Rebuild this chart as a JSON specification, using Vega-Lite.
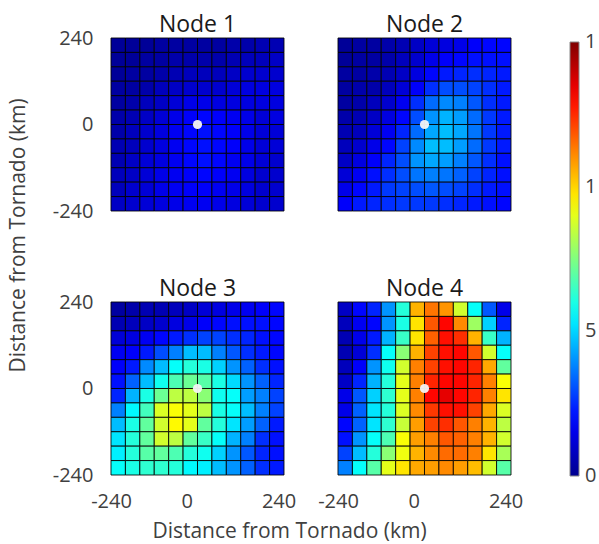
{
"$schema": "https://vega.github.io/schema/vega-lite/v6.json",
"background": "white",
"padding": {"left": 7, "top": 14, "right": 0, "bottom": 8},
"config": {
  "view": {"stroke": null},
  "font": "Open Sans",
  "title": {"font": "Open Sans", "fontSize": 23, "fontWeight": "normal", "color": "#1a1a1a", "anchor": "middle", "offset": 0},
  "axis": {"labelFont": "Open Sans", "labelFontSize": 20, "labelColor": "#404040", "titleFont": "Open Sans", "titleFontSize": 21, "titleFontWeight": "normal", "titleColor": "#404040", "domain": false, "ticks": false, "tickSize": 0, "grid": false, "labelFlush": false}
},
"datasets": {
"dots": [{"node":1,"x":0,"y":0},{"node":2,"x":0,"y":0},{"node":3,"x":0,"y":0},{"node":4,"x":0,"y":0}],
"cells": [
{"node":1,"x":-220,"y":220,"v":0.01},{"node":1,"x":-180,"y":220,"v":0.01},{"node":1,"x":-140,"y":220,"v":0.01},{"node":1,"x":-100,"y":220,"v":0.02},{"node":1,"x":-60,"y":220,"v":0.02},{"node":1,"x":-20,"y":220,"v":0.02},{"node":1,"x":20,"y":220,"v":0.02},{"node":1,"x":60,"y":220,"v":0.02},{"node":1,"x":100,"y":220,"v":0.03},{"node":1,"x":140,"y":220,"v":0.03},{"node":1,"x":180,"y":220,"v":0.04},{"node":1,"x":220,"y":220,"v":0.04},
{"node":1,"x":-220,"y":180,"v":0.01},{"node":1,"x":-180,"y":180,"v":0.01},{"node":1,"x":-140,"y":180,"v":0.02},{"node":1,"x":-100,"y":180,"v":0.02},{"node":1,"x":-60,"y":180,"v":0.03},{"node":1,"x":-20,"y":180,"v":0.03},{"node":1,"x":20,"y":180,"v":0.03},{"node":1,"x":60,"y":180,"v":0.03},{"node":1,"x":100,"y":180,"v":0.04},{"node":1,"x":140,"y":180,"v":0.05},{"node":1,"x":180,"y":180,"v":0.05},{"node":1,"x":220,"y":180,"v":0.06},
{"node":1,"x":-220,"y":140,"v":0.01},{"node":1,"x":-180,"y":140,"v":0.02},{"node":1,"x":-140,"y":140,"v":0.02},{"node":1,"x":-100,"y":140,"v":0.03},{"node":1,"x":-60,"y":140,"v":0.04},{"node":1,"x":-20,"y":140,"v":0.05},{"node":1,"x":20,"y":140,"v":0.05},{"node":1,"x":60,"y":140,"v":0.05},{"node":1,"x":100,"y":140,"v":0.06},{"node":1,"x":140,"y":140,"v":0.07},{"node":1,"x":180,"y":140,"v":0.07},{"node":1,"x":220,"y":140,"v":0.07},
{"node":1,"x":-220,"y":100,"v":0.02},{"node":1,"x":-180,"y":100,"v":0.02},{"node":1,"x":-140,"y":100,"v":0.03},{"node":1,"x":-100,"y":100,"v":0.05},{"node":1,"x":-60,"y":100,"v":0.06},{"node":1,"x":-20,"y":100,"v":0.07},{"node":1,"x":20,"y":100,"v":0.07},{"node":1,"x":60,"y":100,"v":0.07},{"node":1,"x":100,"y":100,"v":0.08},{"node":1,"x":140,"y":100,"v":0.09},{"node":1,"x":180,"y":100,"v":0.09},{"node":1,"x":220,"y":100,"v":0.09},
{"node":1,"x":-220,"y":60,"v":0.02},{"node":1,"x":-180,"y":60,"v":0.03},{"node":1,"x":-140,"y":60,"v":0.05},{"node":1,"x":-100,"y":60,"v":0.06},{"node":1,"x":-60,"y":60,"v":0.08},{"node":1,"x":-20,"y":60,"v":0.10},{"node":1,"x":20,"y":60,"v":0.10},{"node":1,"x":60,"y":60,"v":0.09},{"node":1,"x":100,"y":60,"v":0.09},{"node":1,"x":140,"y":60,"v":0.09},{"node":1,"x":180,"y":60,"v":0.09},{"node":1,"x":220,"y":60,"v":0.09},
{"node":1,"x":-220,"y":20,"v":0.03},{"node":1,"x":-180,"y":20,"v":0.04},{"node":1,"x":-140,"y":20,"v":0.06},{"node":1,"x":-100,"y":20,"v":0.08},{"node":1,"x":-60,"y":20,"v":0.10},{"node":1,"x":-20,"y":20,"v":0.12},{"node":1,"x":20,"y":20,"v":0.13},{"node":1,"x":60,"y":20,"v":0.12},{"node":1,"x":100,"y":20,"v":0.11},{"node":1,"x":140,"y":20,"v":0.10},{"node":1,"x":180,"y":20,"v":0.08},{"node":1,"x":220,"y":20,"v":0.09},
{"node":1,"x":-220,"y":-20,"v":0.03},{"node":1,"x":-180,"y":-20,"v":0.05},{"node":1,"x":-140,"y":-20,"v":0.07},{"node":1,"x":-100,"y":-20,"v":0.09},{"node":1,"x":-60,"y":-20,"v":0.11},{"node":1,"x":-20,"y":-20,"v":0.13},{"node":1,"x":20,"y":-20,"v":0.14},{"node":1,"x":60,"y":-20,"v":0.13},{"node":1,"x":100,"y":-20,"v":0.12},{"node":1,"x":140,"y":-20,"v":0.10},{"node":1,"x":180,"y":-20,"v":0.08},{"node":1,"x":220,"y":-20,"v":0.08},
{"node":1,"x":-220,"y":-60,"v":0.04},{"node":1,"x":-180,"y":-60,"v":0.05},{"node":1,"x":-140,"y":-60,"v":0.07},{"node":1,"x":-100,"y":-60,"v":0.09},{"node":1,"x":-60,"y":-60,"v":0.11},{"node":1,"x":-20,"y":-60,"v":0.13},{"node":1,"x":20,"y":-60,"v":0.14},{"node":1,"x":60,"y":-60,"v":0.13},{"node":1,"x":100,"y":-60,"v":0.12},{"node":1,"x":140,"y":-60,"v":0.10},{"node":1,"x":180,"y":-60,"v":0.08},{"node":1,"x":220,"y":-60,"v":0.08},
{"node":1,"x":-220,"y":-100,"v":0.04},{"node":1,"x":-180,"y":-100,"v":0.06},{"node":1,"x":-140,"y":-100,"v":0.08},{"node":1,"x":-100,"y":-100,"v":0.09},{"node":1,"x":-60,"y":-100,"v":0.11},{"node":1,"x":-20,"y":-100,"v":0.13},{"node":1,"x":20,"y":-100,"v":0.14},{"node":1,"x":60,"y":-100,"v":0.13},{"node":1,"x":100,"y":-100,"v":0.11},{"node":1,"x":140,"y":-100,"v":0.10},{"node":1,"x":180,"y":-100,"v":0.08},{"node":1,"x":220,"y":-100,"v":0.07},
{"node":1,"x":-220,"y":-140,"v":0.05},{"node":1,"x":-180,"y":-140,"v":0.06},{"node":1,"x":-140,"y":-140,"v":0.08},{"node":1,"x":-100,"y":-140,"v":0.10},{"node":1,"x":-60,"y":-140,"v":0.11},{"node":1,"x":-20,"y":-140,"v":0.12},{"node":1,"x":20,"y":-140,"v":0.13},{"node":1,"x":60,"y":-140,"v":0.12},{"node":1,"x":100,"y":-140,"v":0.11},{"node":1,"x":140,"y":-140,"v":0.09},{"node":1,"x":180,"y":-140,"v":0.07},{"node":1,"x":220,"y":-140,"v":0.07},
{"node":1,"x":-220,"y":-180,"v":0.05},{"node":1,"x":-180,"y":-180,"v":0.07},{"node":1,"x":-140,"y":-180,"v":0.08},{"node":1,"x":-100,"y":-180,"v":0.10},{"node":1,"x":-60,"y":-180,"v":0.11},{"node":1,"x":-20,"y":-180,"v":0.12},{"node":1,"x":20,"y":-180,"v":0.12},{"node":1,"x":60,"y":-180,"v":0.11},{"node":1,"x":100,"y":-180,"v":0.10},{"node":1,"x":140,"y":-180,"v":0.09},{"node":1,"x":180,"y":-180,"v":0.07},{"node":1,"x":220,"y":-180,"v":0.07},
{"node":1,"x":-220,"y":-220,"v":0.06},{"node":1,"x":-180,"y":-220,"v":0.07},{"node":1,"x":-140,"y":-220,"v":0.08},{"node":1,"x":-100,"y":-220,"v":0.09},{"node":1,"x":-60,"y":-220,"v":0.10},{"node":1,"x":-20,"y":-220,"v":0.11},{"node":1,"x":20,"y":-220,"v":0.11},{"node":1,"x":60,"y":-220,"v":0.10},{"node":1,"x":100,"y":-220,"v":0.09},{"node":1,"x":140,"y":-220,"v":0.08},{"node":1,"x":180,"y":-220,"v":0.07},{"node":1,"x":220,"y":-220,"v":0.07},

{"node":2,"x":-220,"y":220,"v":0.01},{"node":2,"x":-180,"y":220,"v":0.02},{"node":2,"x":-140,"y":220,"v":0.02},{"node":2,"x":-100,"y":220,"v":0.03},{"node":2,"x":-60,"y":220,"v":0.04},{"node":2,"x":-20,"y":220,"v":0.06},{"node":2,"x":20,"y":220,"v":0.08},{"node":2,"x":60,"y":220,"v":0.09},{"node":2,"x":100,"y":220,"v":0.10},{"node":2,"x":140,"y":220,"v":0.12},{"node":2,"x":180,"y":220,"v":0.13},{"node":2,"x":220,"y":220,"v":0.13},
{"node":2,"x":-220,"y":180,"v":0.01},{"node":2,"x":-180,"y":180,"v":0.02},{"node":2,"x":-140,"y":180,"v":0.02},{"node":2,"x":-100,"y":180,"v":0.03},{"node":2,"x":-60,"y":180,"v":0.05},{"node":2,"x":-20,"y":180,"v":0.07},{"node":2,"x":20,"y":180,"v":0.10},{"node":2,"x":60,"y":180,"v":0.12},{"node":2,"x":100,"y":180,"v":0.13},{"node":2,"x":140,"y":180,"v":0.14},{"node":2,"x":180,"y":180,"v":0.14},{"node":2,"x":220,"y":180,"v":0.14},
{"node":2,"x":-220,"y":140,"v":0.02},{"node":2,"x":-180,"y":140,"v":0.02},{"node":2,"x":-140,"y":140,"v":0.03},{"node":2,"x":-100,"y":140,"v":0.04},{"node":2,"x":-60,"y":140,"v":0.06},{"node":2,"x":-20,"y":140,"v":0.09},{"node":2,"x":20,"y":140,"v":0.13},{"node":2,"x":60,"y":140,"v":0.15},{"node":2,"x":100,"y":140,"v":0.16},{"node":2,"x":140,"y":140,"v":0.17},{"node":2,"x":180,"y":140,"v":0.16},{"node":2,"x":220,"y":140,"v":0.15},
{"node":2,"x":-220,"y":100,"v":0.02},{"node":2,"x":-180,"y":100,"v":0.03},{"node":2,"x":-140,"y":100,"v":0.03},{"node":2,"x":-100,"y":100,"v":0.05},{"node":2,"x":-60,"y":100,"v":0.08},{"node":2,"x":-20,"y":100,"v":0.12},{"node":2,"x":20,"y":100,"v":0.17},{"node":2,"x":60,"y":100,"v":0.20},{"node":2,"x":100,"y":100,"v":0.20},{"node":2,"x":140,"y":100,"v":0.19},{"node":2,"x":180,"y":100,"v":0.17},{"node":2,"x":220,"y":100,"v":0.15},
{"node":2,"x":-220,"y":60,"v":0.02},{"node":2,"x":-180,"y":60,"v":0.03},{"node":2,"x":-140,"y":60,"v":0.05},{"node":2,"x":-100,"y":60,"v":0.07},{"node":2,"x":-60,"y":60,"v":0.11},{"node":2,"x":-20,"y":60,"v":0.17},{"node":2,"x":20,"y":60,"v":0.23},{"node":2,"x":60,"y":60,"v":0.26},{"node":2,"x":100,"y":60,"v":0.25},{"node":2,"x":140,"y":60,"v":0.21},{"node":2,"x":180,"y":60,"v":0.17},{"node":2,"x":220,"y":60,"v":0.15},
{"node":2,"x":-220,"y":20,"v":0.03},{"node":2,"x":-180,"y":20,"v":0.04},{"node":2,"x":-140,"y":20,"v":0.06},{"node":2,"x":-100,"y":20,"v":0.09},{"node":2,"x":-60,"y":20,"v":0.13},{"node":2,"x":-20,"y":20,"v":0.20},{"node":2,"x":20,"y":20,"v":0.27},{"node":2,"x":60,"y":20,"v":0.30},{"node":2,"x":100,"y":20,"v":0.28},{"node":2,"x":140,"y":20,"v":0.23},{"node":2,"x":180,"y":20,"v":0.18},{"node":2,"x":220,"y":20,"v":0.15},
{"node":2,"x":-220,"y":-20,"v":0.04},{"node":2,"x":-180,"y":-20,"v":0.05},{"node":2,"x":-140,"y":-20,"v":0.08},{"node":2,"x":-100,"y":-20,"v":0.11},{"node":2,"x":-60,"y":-20,"v":0.16},{"node":2,"x":-20,"y":-20,"v":0.23},{"node":2,"x":20,"y":-20,"v":0.29},{"node":2,"x":60,"y":-20,"v":0.31},{"node":2,"x":100,"y":-20,"v":0.29},{"node":2,"x":140,"y":-20,"v":0.24},{"node":2,"x":180,"y":-20,"v":0.18},{"node":2,"x":220,"y":-20,"v":0.15},
{"node":2,"x":-220,"y":-60,"v":0.05},{"node":2,"x":-180,"y":-60,"v":0.07},{"node":2,"x":-140,"y":-60,"v":0.10},{"node":2,"x":-100,"y":-60,"v":0.13},{"node":2,"x":-60,"y":-60,"v":0.19},{"node":2,"x":-20,"y":-60,"v":0.26},{"node":2,"x":20,"y":-60,"v":0.31},{"node":2,"x":60,"y":-60,"v":0.31},{"node":2,"x":100,"y":-60,"v":0.28},{"node":2,"x":140,"y":-60,"v":0.23},{"node":2,"x":180,"y":-60,"v":0.18},{"node":2,"x":220,"y":-60,"v":0.15},
{"node":2,"x":-220,"y":-100,"v":0.06},{"node":2,"x":-180,"y":-100,"v":0.09},{"node":2,"x":-140,"y":-100,"v":0.12},{"node":2,"x":-100,"y":-100,"v":0.16},{"node":2,"x":-60,"y":-100,"v":0.20},{"node":2,"x":-20,"y":-100,"v":0.27},{"node":2,"x":20,"y":-100,"v":0.29},{"node":2,"x":60,"y":-100,"v":0.28},{"node":2,"x":100,"y":-100,"v":0.25},{"node":2,"x":140,"y":-100,"v":0.21},{"node":2,"x":180,"y":-100,"v":0.17},{"node":2,"x":220,"y":-100,"v":0.14},
{"node":2,"x":-220,"y":-140,"v":0.08},{"node":2,"x":-180,"y":-140,"v":0.11},{"node":2,"x":-140,"y":-140,"v":0.14},{"node":2,"x":-100,"y":-140,"v":0.17},{"node":2,"x":-60,"y":-140,"v":0.20},{"node":2,"x":-20,"y":-140,"v":0.24},{"node":2,"x":20,"y":-140,"v":0.25},{"node":2,"x":60,"y":-140,"v":0.24},{"node":2,"x":100,"y":-140,"v":0.22},{"node":2,"x":140,"y":-140,"v":0.19},{"node":2,"x":180,"y":-140,"v":0.16},{"node":2,"x":220,"y":-140,"v":0.14},
{"node":2,"x":-220,"y":-180,"v":0.10},{"node":2,"x":-180,"y":-180,"v":0.13},{"node":2,"x":-140,"y":-180,"v":0.15},{"node":2,"x":-100,"y":-180,"v":0.18},{"node":2,"x":-60,"y":-180,"v":0.19},{"node":2,"x":-20,"y":-180,"v":0.20},{"node":2,"x":20,"y":-180,"v":0.21},{"node":2,"x":60,"y":-180,"v":0.20},{"node":2,"x":100,"y":-180,"v":0.19},{"node":2,"x":140,"y":-180,"v":0.17},{"node":2,"x":180,"y":-180,"v":0.15},{"node":2,"x":220,"y":-180,"v":0.14},
{"node":2,"x":-220,"y":-220,"v":0.12},{"node":2,"x":-180,"y":-220,"v":0.15},{"node":2,"x":-140,"y":-220,"v":0.16},{"node":2,"x":-100,"y":-220,"v":0.17},{"node":2,"x":-60,"y":-220,"v":0.18},{"node":2,"x":-20,"y":-220,"v":0.18},{"node":2,"x":20,"y":-220,"v":0.18},{"node":2,"x":60,"y":-220,"v":0.17},{"node":2,"x":100,"y":-220,"v":0.16},{"node":2,"x":140,"y":-220,"v":0.15},{"node":2,"x":180,"y":-220,"v":0.14},{"node":2,"x":220,"y":-220,"v":0.13},

{"node":3,"x":-220,"y":220,"v":0.02},{"node":3,"x":-180,"y":220,"v":0.03},{"node":3,"x":-140,"y":220,"v":0.04},{"node":3,"x":-100,"y":220,"v":0.04},{"node":3,"x":-60,"y":220,"v":0.05},{"node":3,"x":-20,"y":220,"v":0.06},{"node":3,"x":20,"y":220,"v":0.08},{"node":3,"x":60,"y":220,"v":0.09},{"node":3,"x":100,"y":220,"v":0.10},{"node":3,"x":140,"y":220,"v":0.11},{"node":3,"x":180,"y":220,"v":0.12},{"node":3,"x":220,"y":220,"v":0.13},
{"node":3,"x":-220,"y":180,"v":0.04},{"node":3,"x":-180,"y":180,"v":0.05},{"node":3,"x":-140,"y":180,"v":0.06},{"node":3,"x":-100,"y":180,"v":0.07},{"node":3,"x":-60,"y":180,"v":0.09},{"node":3,"x":-20,"y":180,"v":0.10},{"node":3,"x":20,"y":180,"v":0.12},{"node":3,"x":60,"y":180,"v":0.13},{"node":3,"x":100,"y":180,"v":0.14},{"node":3,"x":140,"y":180,"v":0.14},{"node":3,"x":180,"y":180,"v":0.14},{"node":3,"x":220,"y":180,"v":0.13},
{"node":3,"x":-220,"y":140,"v":0.08},{"node":3,"x":-180,"y":140,"v":0.09},{"node":3,"x":-140,"y":140,"v":0.11},{"node":3,"x":-100,"y":140,"v":0.13},{"node":3,"x":-60,"y":140,"v":0.15},{"node":3,"x":-20,"y":140,"v":0.17},{"node":3,"x":20,"y":140,"v":0.19},{"node":3,"x":60,"y":140,"v":0.19},{"node":3,"x":100,"y":140,"v":0.17},{"node":3,"x":140,"y":140,"v":0.16},{"node":3,"x":180,"y":140,"v":0.14},{"node":3,"x":220,"y":140,"v":0.13},
{"node":3,"x":-220,"y":100,"v":0.11},{"node":3,"x":-180,"y":100,"v":0.12},{"node":3,"x":-140,"y":100,"v":0.15},{"node":3,"x":-100,"y":100,"v":0.20},{"node":3,"x":-60,"y":100,"v":0.25},{"node":3,"x":-20,"y":100,"v":0.31},{"node":3,"x":20,"y":100,"v":0.31},{"node":3,"x":60,"y":100,"v":0.25},{"node":3,"x":100,"y":100,"v":0.21},{"node":3,"x":140,"y":100,"v":0.17},{"node":3,"x":180,"y":100,"v":0.15},{"node":3,"x":220,"y":100,"v":0.13},
{"node":3,"x":-220,"y":60,"v":0.12},{"node":3,"x":-180,"y":60,"v":0.15},{"node":3,"x":-140,"y":60,"v":0.26},{"node":3,"x":-100,"y":60,"v":0.31},{"node":3,"x":-60,"y":60,"v":0.38},{"node":3,"x":-20,"y":60,"v":0.41},{"node":3,"x":20,"y":60,"v":0.40},{"node":3,"x":60,"y":60,"v":0.33},{"node":3,"x":100,"y":60,"v":0.27},{"node":3,"x":140,"y":60,"v":0.22},{"node":3,"x":180,"y":60,"v":0.17},{"node":3,"x":220,"y":60,"v":0.14},
{"node":3,"x":-220,"y":20,"v":0.14},{"node":3,"x":-180,"y":20,"v":0.22},{"node":3,"x":-140,"y":20,"v":0.31},{"node":3,"x":-100,"y":20,"v":0.39},{"node":3,"x":-60,"y":20,"v":0.45},{"node":3,"x":-20,"y":20,"v":0.48},{"node":3,"x":20,"y":20,"v":0.46},{"node":3,"x":60,"y":20,"v":0.40},{"node":3,"x":100,"y":20,"v":0.34},{"node":3,"x":140,"y":20,"v":0.27},{"node":3,"x":180,"y":20,"v":0.22},{"node":3,"x":220,"y":20,"v":0.16},
{"node":3,"x":-220,"y":-20,"v":0.16},{"node":3,"x":-180,"y":-20,"v":0.30},{"node":3,"x":-140,"y":-20,"v":0.40},{"node":3,"x":-100,"y":-20,"v":0.48},{"node":3,"x":-60,"y":-20,"v":0.56},{"node":3,"x":-20,"y":-20,"v":0.56},{"node":3,"x":20,"y":-20,"v":0.51},{"node":3,"x":60,"y":-20,"v":0.39},{"node":3,"x":100,"y":-20,"v":0.38},{"node":3,"x":140,"y":-20,"v":0.28},{"node":3,"x":180,"y":-20,"v":0.25},{"node":3,"x":220,"y":-20,"v":0.19},
{"node":3,"x":-220,"y":-60,"v":0.25},{"node":3,"x":-180,"y":-60,"v":0.37},{"node":3,"x":-140,"y":-60,"v":0.44},{"node":3,"x":-100,"y":-60,"v":0.59},{"node":3,"x":-60,"y":-60,"v":0.62},{"node":3,"x":-20,"y":-60,"v":0.60},{"node":3,"x":20,"y":-60,"v":0.56},{"node":3,"x":60,"y":-60,"v":0.40},{"node":3,"x":100,"y":-60,"v":0.38},{"node":3,"x":140,"y":-60,"v":0.31},{"node":3,"x":180,"y":-60,"v":0.25},{"node":3,"x":220,"y":-60,"v":0.19},
{"node":3,"x":-220,"y":-100,"v":0.31},{"node":3,"x":-180,"y":-100,"v":0.40},{"node":3,"x":-140,"y":-100,"v":0.47},{"node":3,"x":-100,"y":-100,"v":0.58},{"node":3,"x":-60,"y":-100,"v":0.63},{"node":3,"x":-20,"y":-100,"v":0.60},{"node":3,"x":20,"y":-100,"v":0.47},{"node":3,"x":60,"y":-100,"v":0.41},{"node":3,"x":100,"y":-100,"v":0.35},{"node":3,"x":140,"y":-100,"v":0.28},{"node":3,"x":180,"y":-100,"v":0.22},{"node":3,"x":220,"y":-100,"v":0.15},
{"node":3,"x":-220,"y":-140,"v":0.35},{"node":3,"x":-180,"y":-140,"v":0.41},{"node":3,"x":-140,"y":-140,"v":0.47},{"node":3,"x":-100,"y":-140,"v":0.58},{"node":3,"x":-60,"y":-140,"v":0.56},{"node":3,"x":-20,"y":-140,"v":0.47},{"node":3,"x":20,"y":-140,"v":0.43},{"node":3,"x":60,"y":-140,"v":0.38},{"node":3,"x":100,"y":-140,"v":0.30},{"node":3,"x":140,"y":-140,"v":0.25},{"node":3,"x":180,"y":-140,"v":0.17},{"node":3,"x":220,"y":-140,"v":0.14},
{"node":3,"x":-220,"y":-180,"v":0.36},{"node":3,"x":-180,"y":-180,"v":0.41},{"node":3,"x":-140,"y":-180,"v":0.46},{"node":3,"x":-100,"y":-180,"v":0.47},{"node":3,"x":-60,"y":-180,"v":0.45},{"node":3,"x":-20,"y":-180,"v":0.41},{"node":3,"x":20,"y":-180,"v":0.39},{"node":3,"x":60,"y":-180,"v":0.33},{"node":3,"x":100,"y":-180,"v":0.27},{"node":3,"x":140,"y":-180,"v":0.21},{"node":3,"x":180,"y":-180,"v":0.16},{"node":3,"x":220,"y":-180,"v":0.14},
{"node":3,"x":-220,"y":-220,"v":0.38},{"node":3,"x":-180,"y":-220,"v":0.40},{"node":3,"x":-140,"y":-220,"v":0.42},{"node":3,"x":-100,"y":-220,"v":0.42},{"node":3,"x":-60,"y":-220,"v":0.41},{"node":3,"x":-20,"y":-220,"v":0.37},{"node":3,"x":20,"y":-220,"v":0.36},{"node":3,"x":60,"y":-220,"v":0.31},{"node":3,"x":100,"y":-220,"v":0.27},{"node":3,"x":140,"y":-220,"v":0.22},{"node":3,"x":180,"y":-220,"v":0.17},{"node":3,"x":220,"y":-220,"v":0.15},

{"node":4,"x":-220,"y":220,"v":0.06},{"node":4,"x":-180,"y":220,"v":0.13},{"node":4,"x":-140,"y":220,"v":0.16},{"node":4,"x":-100,"y":220,"v":0.27},{"node":4,"x":-60,"y":220,"v":0.41},{"node":4,"x":-20,"y":220,"v":0.70},{"node":4,"x":20,"y":220,"v":0.76},{"node":4,"x":60,"y":220,"v":0.73},{"node":4,"x":100,"y":220,"v":0.58},{"node":4,"x":140,"y":220,"v":0.38},{"node":4,"x":180,"y":220,"v":0.21},{"node":4,"x":220,"y":220,"v":0.10},
{"node":4,"x":-220,"y":180,"v":0.05},{"node":4,"x":-180,"y":180,"v":0.11},{"node":4,"x":-140,"y":180,"v":0.13},{"node":4,"x":-100,"y":180,"v":0.27},{"node":4,"x":-60,"y":180,"v":0.40},{"node":4,"x":-20,"y":180,"v":0.65},{"node":4,"x":20,"y":180,"v":0.79},{"node":4,"x":60,"y":180,"v":0.87},{"node":4,"x":100,"y":180,"v":0.74},{"node":4,"x":140,"y":180,"v":0.53},{"node":4,"x":180,"y":180,"v":0.33},{"node":4,"x":220,"y":180,"v":0.16},
{"node":4,"x":-220,"y":140,"v":0.04},{"node":4,"x":-180,"y":140,"v":0.10},{"node":4,"x":-140,"y":140,"v":0.15},{"node":4,"x":-100,"y":140,"v":0.30},{"node":4,"x":-60,"y":140,"v":0.43},{"node":4,"x":-20,"y":140,"v":0.65},{"node":4,"x":20,"y":140,"v":0.78},{"node":4,"x":60,"y":140,"v":0.86},{"node":4,"x":100,"y":140,"v":0.83},{"node":4,"x":140,"y":140,"v":0.70},{"node":4,"x":180,"y":140,"v":0.43},{"node":4,"x":220,"y":140,"v":0.30},
{"node":4,"x":-220,"y":100,"v":0.04},{"node":4,"x":-180,"y":100,"v":0.08},{"node":4,"x":-140,"y":100,"v":0.17},{"node":4,"x":-100,"y":100,"v":0.38},{"node":4,"x":-60,"y":100,"v":0.51},{"node":4,"x":-20,"y":100,"v":0.70},{"node":4,"x":20,"y":100,"v":0.81},{"node":4,"x":60,"y":100,"v":0.86},{"node":4,"x":100,"y":100,"v":0.87},{"node":4,"x":140,"y":100,"v":0.79},{"node":4,"x":180,"y":100,"v":0.58},{"node":4,"x":220,"y":100,"v":0.38},
{"node":4,"x":-220,"y":60,"v":0.05},{"node":4,"x":-180,"y":60,"v":0.12},{"node":4,"x":-140,"y":60,"v":0.27},{"node":4,"x":-100,"y":60,"v":0.39},{"node":4,"x":-60,"y":60,"v":0.58},{"node":4,"x":-20,"y":60,"v":0.75},{"node":4,"x":20,"y":60,"v":0.81},{"node":4,"x":60,"y":60,"v":0.86},{"node":4,"x":100,"y":60,"v":0.87},{"node":4,"x":140,"y":60,"v":0.84},{"node":4,"x":180,"y":60,"v":0.71},{"node":4,"x":220,"y":60,"v":0.47},
{"node":4,"x":-220,"y":20,"v":0.06},{"node":4,"x":-180,"y":20,"v":0.16},{"node":4,"x":-140,"y":20,"v":0.30},{"node":4,"x":-100,"y":20,"v":0.41},{"node":4,"x":-60,"y":20,"v":0.60},{"node":4,"x":-20,"y":20,"v":0.75},{"node":4,"x":20,"y":20,"v":0.84},{"node":4,"x":60,"y":20,"v":0.87},{"node":4,"x":100,"y":20,"v":0.87},{"node":4,"x":140,"y":20,"v":0.84},{"node":4,"x":180,"y":20,"v":0.75},{"node":4,"x":220,"y":20,"v":0.62},
{"node":4,"x":-220,"y":-20,"v":0.10},{"node":4,"x":-180,"y":-20,"v":0.21},{"node":4,"x":-140,"y":-20,"v":0.33},{"node":4,"x":-100,"y":-20,"v":0.42},{"node":4,"x":-60,"y":-20,"v":0.60},{"node":4,"x":-20,"y":-20,"v":0.75},{"node":4,"x":20,"y":-20,"v":0.87},{"node":4,"x":60,"y":-20,"v":0.90},{"node":4,"x":100,"y":-20,"v":0.87},{"node":4,"x":140,"y":-20,"v":0.84},{"node":4,"x":180,"y":-20,"v":0.75},{"node":4,"x":220,"y":-20,"v":0.65},
{"node":4,"x":-220,"y":-60,"v":0.10},{"node":4,"x":-180,"y":-60,"v":0.22},{"node":4,"x":-140,"y":-60,"v":0.35},{"node":4,"x":-100,"y":-60,"v":0.41},{"node":4,"x":-60,"y":-60,"v":0.59},{"node":4,"x":-20,"y":-60,"v":0.74},{"node":4,"x":20,"y":-60,"v":0.82},{"node":4,"x":60,"y":-60,"v":0.86},{"node":4,"x":100,"y":-60,"v":0.86},{"node":4,"x":140,"y":-60,"v":0.81},{"node":4,"x":180,"y":-60,"v":0.71},{"node":4,"x":220,"y":-60,"v":0.59},
{"node":4,"x":-220,"y":-100,"v":0.13},{"node":4,"x":-180,"y":-100,"v":0.22},{"node":4,"x":-140,"y":-100,"v":0.35},{"node":4,"x":-100,"y":-100,"v":0.42},{"node":4,"x":-60,"y":-100,"v":0.57},{"node":4,"x":-20,"y":-100,"v":0.72},{"node":4,"x":20,"y":-100,"v":0.81},{"node":4,"x":60,"y":-100,"v":0.83},{"node":4,"x":100,"y":-100,"v":0.79},{"node":4,"x":140,"y":-100,"v":0.75},{"node":4,"x":180,"y":-100,"v":0.70},{"node":4,"x":220,"y":-100,"v":0.56},
{"node":4,"x":-220,"y":-140,"v":0.14},{"node":4,"x":-180,"y":-140,"v":0.27},{"node":4,"x":-140,"y":-140,"v":0.38},{"node":4,"x":-100,"y":-140,"v":0.45},{"node":4,"x":-60,"y":-140,"v":0.62},{"node":4,"x":-20,"y":-140,"v":0.72},{"node":4,"x":20,"y":-140,"v":0.75},{"node":4,"x":60,"y":-140,"v":0.79},{"node":4,"x":100,"y":-140,"v":0.78},{"node":4,"x":140,"y":-140,"v":0.75},{"node":4,"x":180,"y":-140,"v":0.70},{"node":4,"x":220,"y":-140,"v":0.58},
{"node":4,"x":-220,"y":-180,"v":0.19},{"node":4,"x":-180,"y":-180,"v":0.31},{"node":4,"x":-140,"y":-180,"v":0.41},{"node":4,"x":-100,"y":-180,"v":0.51},{"node":4,"x":-60,"y":-180,"v":0.61},{"node":4,"x":-20,"y":-180,"v":0.70},{"node":4,"x":20,"y":-180,"v":0.74},{"node":4,"x":60,"y":-180,"v":0.77},{"node":4,"x":100,"y":-180,"v":0.77},{"node":4,"x":140,"y":-180,"v":0.75},{"node":4,"x":180,"y":-180,"v":0.65},{"node":4,"x":220,"y":-180,"v":0.54},
{"node":4,"x":-220,"y":-220,"v":0.25},{"node":4,"x":-180,"y":-220,"v":0.38},{"node":4,"x":-140,"y":-220,"v":0.46},{"node":4,"x":-100,"y":-220,"v":0.60},{"node":4,"x":-60,"y":-220,"v":0.65},{"node":4,"x":-20,"y":-220,"v":0.71},{"node":4,"x":20,"y":-220,"v":0.72},{"node":4,"x":60,"y":-220,"v":0.74},{"node":4,"x":100,"y":-220,"v":0.72},{"node":4,"x":140,"y":-220,"v":0.69},{"node":4,"x":180,"y":-220,"v":0.58},{"node":4,"x":220,"y":-220,"v":0.46}
]
},
"columns": 2,
"spacing": {"row": 91, "column": 54},
"bounds": "flush",
"resolve": {"scale": {"color": "shared"}},
"concat": [
{
 "title": {"text": "Node 1", "offset": -9}, "width": 173, "height": 173,
 "layer": [
  {"data": {"name": "cells"}, "transform": [{"filter": "datum.node == 1"}],
   "mark": {"type": "rect", "width": 14.42, "height": 14.42, "stroke": "#000000", "strokeWidth": 1, "strokeOpacity": 0.85},
   "encoding": {
    "x": {"field": "x", "type": "quantitative", "scale": {"domain": [-240, 240], "nice": false, "zero": false}, "axis": null},
    "y": {"field": "y", "type": "quantitative", "scale": {"domain": [-240, 240], "nice": false, "zero": false},
          "axis": {"values": [-240, 0, 240], "labelExpr": "datum.value < -100 ? '-240' : datum.value < 100 ? '0' : '240'", "labelPadding": 18, "title": "Distance from Tornado (km)", "titleX": -93, "titleY": 197, "titleAngle": -90, "titleAlign": "center", "titleBaseline": "middle"}},
    "color": {"field": "v", "type": "quantitative",
      "scale": {"domain": [0, 0.125, 0.375, 0.625, 0.875, 1], "range": ["#00008f", "#0000ff", "#00ffff", "#ffff00", "#ff0000", "#800000"], "interpolate": "rgb"},
      "legend": {"orient": "none", "legendX": 459, "legendY": 4, "title": null, "direction": "vertical", "gradientLength": 434, "gradientThickness": 9,
        "values": [0, 0.3333, 0.6667, 1], "labelExpr": "datum.value < 0.1 ? '0' : datum.value < 0.5 ? '5' : '1'",
        "labelFont": "Open Sans", "labelFontSize": 20, "labelColor": "#404040", "labelOffset": 6, "labelBaseline": "middle", "labelOverlap": false,
        "gradientStrokeColor": "#888888", "gradientStrokeWidth": 1,
        "encode": {"labels": {"update": {"baseline": {"value": "middle"}}}}}}
   }},
  {"data": {"name": "dots"}, "transform": [{"filter": "datum.node == 1"}],
   "mark": {"type": "point", "filled": true, "size": 85, "color": "#f4f4f4", "opacity": 0.95},
   "encoding": {"x": {"field": "x", "type": "quantitative"}, "y": {"field": "y", "type": "quantitative"}}}
 ]
},
{
 "title": {"text": "Node 2", "offset": 0}, "width": 173, "height": 173,
 "layer": [
  {"data": {"name": "cells"}, "transform": [{"filter": "datum.node == 2"}],
   "mark": {"type": "rect", "width": 14.42, "height": 14.42, "stroke": "#000000", "strokeWidth": 1, "strokeOpacity": 0.85},
   "encoding": {
    "x": {"field": "x", "type": "quantitative", "scale": {"domain": [-240, 240], "nice": false, "zero": false}, "axis": null},
    "y": {"field": "y", "type": "quantitative", "scale": {"domain": [-240, 240], "nice": false, "zero": false}, "axis": null},
    "color": {"field": "v", "type": "quantitative", "legend": null}
   }},
  {"data": {"name": "dots"}, "transform": [{"filter": "datum.node == 2"}],
   "mark": {"type": "point", "filled": true, "size": 85, "color": "#f4f4f4", "opacity": 0.95},
   "encoding": {"x": {"field": "x", "type": "quantitative"}, "y": {"field": "y", "type": "quantitative"}}}
 ]
},
{
 "title": {"text": "Node 3", "offset": -9}, "width": 173, "height": 173,
 "layer": [
  {"data": {"name": "cells"}, "transform": [{"filter": "datum.node == 3"}],
   "mark": {"type": "rect", "width": 14.42, "height": 14.42, "stroke": "#000000", "strokeWidth": 1, "strokeOpacity": 0.85},
   "encoding": {
    "x": {"field": "x", "type": "quantitative", "scale": {"domain": [-240, 240], "nice": false, "zero": false},
          "axis": {"values": [-240, -30, 225], "labelExpr": "datum.value < -100 ? '-240' : datum.value < 100 ? '0' : '240'", "labelPadding": 16, "title": "Distance from Tornado (km)", "titleX": 178, "titleY": 56, "titleBaseline": "middle", "titleAlign": "center"}},
    "y": {"field": "y", "type": "quantitative", "scale": {"domain": [-240, 240], "nice": false, "zero": false},
          "axis": {"values": [-240, 0, 240], "labelExpr": "datum.value < -100 ? '-240' : datum.value < 100 ? '0' : '240'", "labelPadding": 18, "title": null}},
    "color": {"field": "v", "type": "quantitative", "legend": null}
   }},
  {"data": {"name": "dots"}, "transform": [{"filter": "datum.node == 3"}],
   "mark": {"type": "point", "filled": true, "size": 85, "color": "#f4f4f4", "opacity": 0.95},
   "encoding": {"x": {"field": "x", "type": "quantitative"}, "y": {"field": "y", "type": "quantitative"}}}
 ]
},
{
 "title": {"text": "Node 4", "offset": 0}, "width": 173, "height": 173,
 "layer": [
  {"data": {"name": "cells"}, "transform": [{"filter": "datum.node == 4"}],
   "mark": {"type": "rect", "width": 14.42, "height": 14.42, "stroke": "#000000", "strokeWidth": 1, "strokeOpacity": 0.85},
   "encoding": {
    "x": {"field": "x", "type": "quantitative", "scale": {"domain": [-240, 240], "nice": false, "zero": false},
          "axis": {"values": [-240, -30, 225], "labelExpr": "datum.value < -100 ? '-240' : datum.value < 100 ? '0' : '240'", "labelPadding": 16, "title": null}},
    "y": {"field": "y", "type": "quantitative", "scale": {"domain": [-240, 240], "nice": false, "zero": false}, "axis": null},
    "color": {"field": "v", "type": "quantitative", "legend": null}
   }},
  {"data": {"name": "dots"}, "transform": [{"filter": "datum.node == 4"}],
   "mark": {"type": "point", "filled": true, "size": 85, "color": "#f4f4f4", "opacity": 0.95},
   "encoding": {"x": {"field": "x", "type": "quantitative"}, "y": {"field": "y", "type": "quantitative"}}}
 ]
}
]
}
